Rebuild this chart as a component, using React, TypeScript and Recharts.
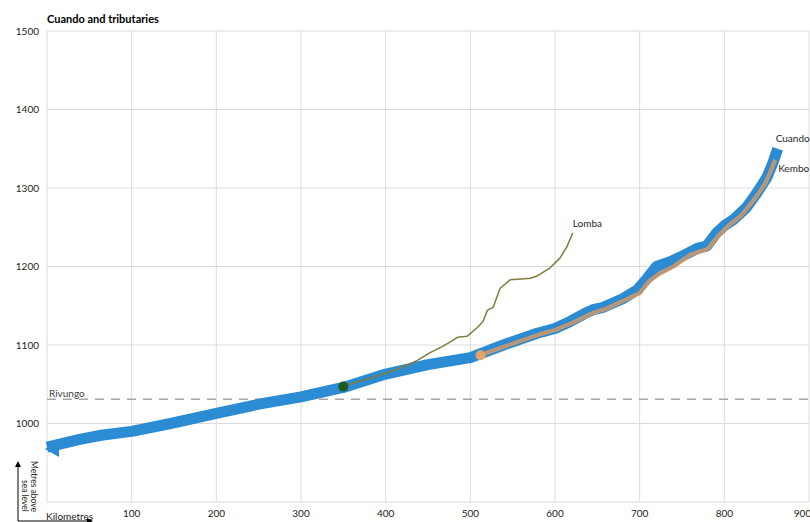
import React from "react";
import {
  LineChart,
  Line,
  XAxis,
  YAxis,
  CartesianGrid,
  ReferenceLine,
  ReferenceDot,
} from "recharts";

// Distance along river (km) and elevation (m)
const cuandoKm = [0, 20, 40, 64, 100, 146, 200, 252, 300, 350, 400, 450, 500, 539, 579, 600, 618, 635, 645, 657, 680, 697, 709, 720, 736, 748, 768, 779, 791, 800, 810, 826, 838, 850, 857, 863];
const cuandoM = [970, 975, 980, 985, 990, 1000, 1013, 1025, 1034, 1046, 1063, 1075, 1084, 1100, 1115, 1121, 1130, 1140, 1145, 1148, 1159, 1170, 1185, 1200, 1206, 1212, 1223, 1226, 1243, 1252, 1259, 1275, 1293, 1313, 1331, 1350];

const kemboKm = [512, 540, 580, 600, 620, 645, 660, 680, 700, 710, 722, 740, 760, 780, 792, 805, 820, 835, 848, 855, 860];
const kemboM = [1087, 1098, 1113, 1119, 1128, 1141, 1146, 1156, 1166, 1180, 1190, 1200, 1215, 1222, 1238, 1252, 1265, 1285, 1305, 1322, 1336];

const lombaKm = [350, 380, 400, 420, 437, 452, 465, 478, 485, 496, 508, 515, 520, 527, 535, 547, 560, 571, 579, 594, 606, 614, 621];
const lombaM = [1048, 1057, 1064, 1072, 1080, 1090, 1097, 1105, 1110, 1111, 1122, 1130, 1144, 1148, 1172, 1183, 1184, 1185, 1188, 1198, 1211, 1225, 1243];

const xTicks = [0, 100, 200, 300, 400, 500, 600, 700, 800, 900];
const yTicks = [900, 1000, 1100, 1200, 1300, 1400, 1500];

const rivungoLevel = 1031;
const lombaJunction = { km: 350, m: 1047 };
const kemboJunction = { km: 512, m: 1087 };

const toRows = (km: number[], m: number[]) => km.map((k, i) => ({ km: k, m: m[i] }));
const cuando = toRows(cuandoKm, cuandoM);
const kembo = toRows(kemboKm, kemboM);
const lomba = toRows(lombaKm, lombaM);

const FONT = "Lato, 'Open Sans', sans-serif";
const BLUE = "#2b8bd3";

// end-of-line name label, shown only on the last point
const endLabel = (name: string, last: number, dx: number, dy: number) => (props: any) => {
  if (props.index !== last) return <g />;
  return (
    <text x={props.x + dx} y={props.y + dy} fontSize={10} fontFamily={FONT} fill="#262626">
      {name}
    </text>
  );
};

// arrowhead at the start of the Cuando
const startArrow = (props: any) => {
  const { cx, cy, index } = props;
  if (index !== 0) return <g key={index} />;
  return (
    <polygon
      key={index}
      points={`${cx - 2},${cy + 2} ${cx + 12},${cy - 8} ${cx + 12},${cy + 10}`}
      fill={BLUE}
    />
  );
};

export default function App() {
  return (
    <div style={{ position: "absolute", left: 0, top: 0, width: 810, height: 522, background: "#fff" }}>
      <LineChart
        width={810}
        height={522}
        margin={{ top: 31, right: 1, bottom: 0, left: 0 }}
        style={{ overflow: "visible" }}
      >
        <CartesianGrid stroke="#dcdcdc" strokeWidth={1} />
        <XAxis
          type="number"
          dataKey="km"
          domain={[0, 900]}
          ticks={xTicks}
          tickFormatter={(v) => (v === 0 ? "" : String(v))}
          axisLine={false}
          tickLine={false}
          height={20}
          tick={{ fontSize: 10, fontFamily: FONT, fill: "#222" }}
        />
        <YAxis
          type="number"
          domain={[900, 1500]}
          ticks={yTicks}
          tickFormatter={(v) => (v === 900 ? "" : String(v))}
          axisLine={false}
          tickLine={false}
          width={47}
          tick={{ fontSize: 10, fontFamily: FONT, fill: "#222" }}
        />
        <ReferenceLine
          y={rivungoLevel}
          stroke="#a6a6a6"
          strokeWidth={1.5}
          strokeDasharray="9 7"
          label={{ value: "Rivungo", position: "insideBottomLeft", offset: 2, fontSize: 10, fontFamily: FONT, fill: "#404040" }}
        />
        <Line
          data={cuando}
          dataKey="m"
          stroke={BLUE}
          strokeWidth={11}
          strokeLinejoin="round"
          dot={startArrow}
          activeDot={false}
          isAnimationActive={false}
          label={endLabel("Cuando", cuando.length - 1, -2, -7)}
        />
        <Line
          data={kembo}
          dataKey="m"
          stroke="#d9965f"
          strokeWidth={4}
          strokeLinejoin="round"
          dot={false}
          activeDot={false}
          isAnimationActive={false}
          label={endLabel("Kembo", kembo.length - 1, 3, 12)}
        />
        <Line
          data={kembo}
          dataKey="m"
          stroke="#9c9890"
          strokeWidth={1.5}
          strokeLinejoin="round"
          dot={false}
          activeDot={false}
          isAnimationActive={false}
        />
        <Line
          data={lomba}
          dataKey="m"
          stroke="#7f7d3a"
          strokeWidth={1.5}
          strokeLinejoin="round"
          dot={false}
          activeDot={false}
          isAnimationActive={false}
          label={endLabel("Lomba", lomba.length - 1, 0, -6)}
        />
        <ReferenceDot x={lombaJunction.km} y={lombaJunction.m} r={5} fill="#1f5a25" stroke="none" />
        <ReferenceDot x={kemboJunction.km} y={kemboJunction.m} r={5} fill="#e8a36a" stroke="none" />
      </LineChart>

      {/* title and axis captions */}
      <svg
        width={810}
        height={522}
        style={{ position: "absolute", left: 0, top: 0, pointerEvents: "none" }}
      >
        <text x={47} y={23} fontSize={11} fontWeight="bold" fontFamily={FONT} fill="#000">
          Cuando and tributaries
        </text>
        <text x={46} y={520} fontSize={10} fontFamily={FONT} fill="#262626">
          Kilometres
        </text>
        <line x1={18} y1={521} x2={90} y2={521} stroke="#000" strokeWidth={1} />
        <polygon points="93,521 87,518 87,524" fill="#000" />
        <line x1={18} y1={521} x2={18} y2={465} stroke="#000" strokeWidth={1} />
        <polygon points="18,461 15,467 21,467" fill="#000" />
        <text x={0} y={0} fontSize={8.5} fontFamily={FONT} fill="#262626" transform="translate(31,461) rotate(90)">
          Metres above
        </text>
        <text x={0} y={0} fontSize={8.5} fontFamily={FONT} fill="#262626" transform="translate(22,480) rotate(90)">
          sea level
        </text>
      </svg>
    </div>
  );
}
